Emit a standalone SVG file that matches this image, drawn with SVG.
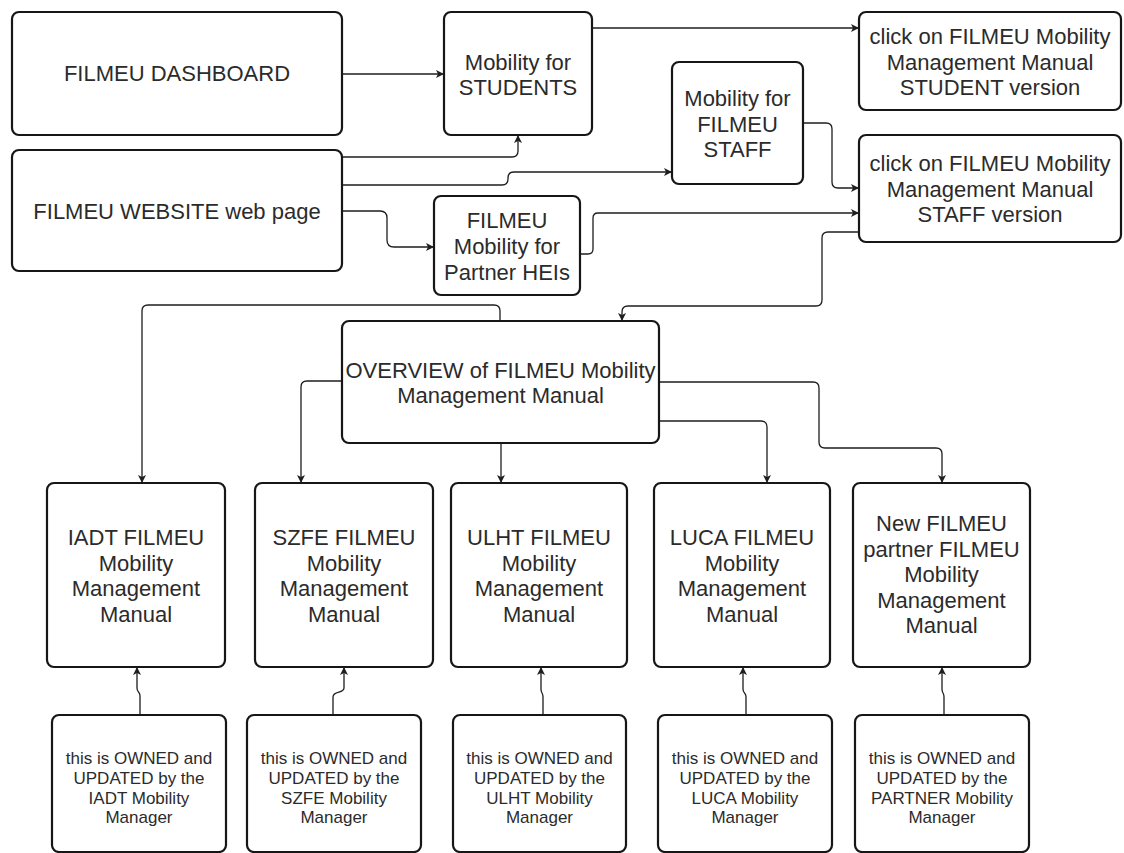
<svg xmlns="http://www.w3.org/2000/svg" width="1124" height="853" viewBox="0 0 1124 853">
<style>
.box{fill:#fff;stroke:#161616;stroke-width:2.2}
.t{font-family:"Liberation Sans",Arial,sans-serif;font-size:22px;fill:#2b2b2b;text-anchor:middle}
.s{font-family:"Liberation Sans",Arial,sans-serif;font-size:17px;fill:#2b2b2b;text-anchor:middle}
.c{fill:none;stroke:#1e1e1e;stroke-width:1.3;marker-end:url(#arr)}
</style>
<defs>
<marker id="arr" markerUnits="userSpaceOnUse" markerWidth="10" markerHeight="10" refX="9" refY="5" orient="auto">
<path d="M1,1 L9,5 L1,9 L3,5 Z" fill="#1e1e1e"/>
</marker>
</defs>
<rect width="1124" height="853" fill="#fff"/>
<g id="connectors">
<path class="c" d="M342,74 H444"/>
<path class="c" d="M342,157 H512 Q518,157 518,151 V135"/>
<path class="c" d="M342,185 H502 Q508,185 508,179 V178 Q508,172 514,172 H672"/>
<path class="c" d="M342,211 H380 Q387,211 387,218 V240 Q387,247 394,247 H434"/>
<path class="c" d="M592,28 H859"/>
<path class="c" d="M803,123 H826 Q832,123 832,129 V182 Q832,188 838,188 H859"/>
<path class="c" d="M580,254 H588 Q593,254 593,249 V218 Q593,213 598,213 H859"/>
<path class="c" d="M859,232 H828 Q822,232 822,238 V300 Q822,306 816,306 H628 Q622,306 622,312 V321"/>
<path class="c" d="M500,321 V311 Q500,305 494,305 H148 Q142,305 142,311 V483"/>
<path class="c" d="M342,381 H307 Q301,381 301,387 V483"/>
<path class="c" d="M501,443 V483"/>
<path class="c" d="M659,421 H761 Q767,421 767,427 V483"/>
<path class="c" d="M659,382 H813 Q819,382 819,388 V442 Q819,448 825,448 H936 Q942,448 942,454 V483"/>
<path class="c" d="M140,715 V696 C140,691 137,693 137,688 V667"/>
<path class="c" d="M333,715 V697 C333,690 344,694 344,688 V667"/>
<path class="c" d="M543,715 V697 C543,692 541,694 541,689 V667"/>
<path class="c" d="M746,715 V697 C746,692 743,694 743,689 V667"/>
<path class="c" d="M944,715 V697 C944,692 942,694 942,689 V667"/>
</g>
<g id="dashboard">
<rect class="box" x="12" y="12" width="330" height="123" rx="7"/>
<text class="t" x="177" y="81">FILMEU DASHBOARD</text>
</g>
<g id="website">
<rect class="box" x="12" y="150" width="330" height="121" rx="7"/>
<text class="t" x="177" y="218.5">FILMEU WEBSITE web page</text>
</g>
<g id="students">
<rect class="box" x="444" y="12" width="148" height="123" rx="7"/>
<text class="t" x="518" y="69.5">Mobility for</text>
<text class="t" x="518" y="95">STUDENTS</text>
</g>
<g id="staff">
<rect class="box" x="672" y="62" width="131" height="122" rx="7"/>
<text class="t" x="737.5" y="106">Mobility for</text>
<text class="t" x="737.5" y="131.5">FILMEU</text>
<text class="t" x="737.5" y="157">STAFF</text>
</g>
<g id="partner-heis">
<rect class="box" x="434" y="196" width="146" height="99" rx="7"/>
<text class="t" x="507" y="228">FILMEU</text>
<text class="t" x="507" y="254">Mobility for</text>
<text class="t" x="507" y="279.5">Partner HEIs</text>
</g>
<g id="student-version">
<rect class="box" x="859" y="12" width="262" height="98" rx="7"/>
<text class="t" x="990" y="44">click on FILMEU Mobility</text>
<text class="t" x="990" y="69.5">Management Manual</text>
<text class="t" x="990" y="95">STUDENT version</text>
</g>
<g id="staff-version">
<rect class="box" x="859" y="135" width="262" height="107" rx="7"/>
<text class="t" x="990" y="171">click on FILMEU Mobility</text>
<text class="t" x="990" y="196.5">Management Manual</text>
<text class="t" x="990" y="222">STAFF version</text>
</g>
<g id="overview">
<rect class="box" x="342" y="321" width="317" height="122" rx="7"/>
<text class="t" x="500.5" y="378">OVERVIEW of FILMEU Mobility</text>
<text class="t" x="500.5" y="403">Management Manual</text>
</g>
<g id="iadt">
<rect class="box" x="47" y="483" width="178" height="184" rx="7"/>
<text class="t" x="136" y="545">IADT FILMEU</text>
<text class="t" x="136" y="570.5">Mobility</text>
<text class="t" x="136" y="596">Management</text>
<text class="t" x="136" y="621.5">Manual</text>
</g>
<g id="szfe">
<rect class="box" x="255" y="483" width="178" height="184" rx="7"/>
<text class="t" x="344" y="545">SZFE FILMEU</text>
<text class="t" x="344" y="570.5">Mobility</text>
<text class="t" x="344" y="596">Management</text>
<text class="t" x="344" y="621.5">Manual</text>
</g>
<g id="ulht">
<rect class="box" x="451" y="483" width="176" height="184" rx="7"/>
<text class="t" x="539" y="545">ULHT FILMEU</text>
<text class="t" x="539" y="570.5">Mobility</text>
<text class="t" x="539" y="596">Management</text>
<text class="t" x="539" y="621.5">Manual</text>
</g>
<g id="luca">
<rect class="box" x="654" y="483" width="176" height="184" rx="7"/>
<text class="t" x="742" y="545">LUCA FILMEU</text>
<text class="t" x="742" y="570.5">Mobility</text>
<text class="t" x="742" y="596">Management</text>
<text class="t" x="742" y="621.5">Manual</text>
</g>
<g id="new-partner">
<rect class="box" x="853" y="483" width="177" height="184" rx="7"/>
<text class="t" x="941.5" y="531">New FILMEU</text>
<text class="t" x="941.5" y="556.5">partner FILMEU</text>
<text class="t" x="941.5" y="582">Mobility</text>
<text class="t" x="941.5" y="607.5">Management</text>
<text class="t" x="941.5" y="633">Manual</text>
</g>
<g id="owner-iadt">
<rect class="box" x="52" y="715" width="174" height="137" rx="7"/>
<text class="s" x="139" y="764">this is OWNED and</text>
<text class="s" x="139" y="784">UPDATED by the</text>
<text class="s" x="139" y="804">IADT Mobility</text>
<text class="s" x="139" y="823">Manager</text>
</g>
<g id="owner-szfe">
<rect class="box" x="247" y="715" width="174" height="137" rx="7"/>
<text class="s" x="334" y="764">this is OWNED and</text>
<text class="s" x="334" y="784">UPDATED by the</text>
<text class="s" x="334" y="804">SZFE Mobility</text>
<text class="s" x="334" y="823">Manager</text>
</g>
<g id="owner-ulht">
<rect class="box" x="453" y="715" width="173" height="137" rx="7"/>
<text class="s" x="539.5" y="764">this is OWNED and</text>
<text class="s" x="539.5" y="784">UPDATED by the</text>
<text class="s" x="539.5" y="804">ULHT Mobility</text>
<text class="s" x="539.5" y="823">Manager</text>
</g>
<g id="owner-luca">
<rect class="box" x="658" y="715" width="174" height="137" rx="7"/>
<text class="s" x="745" y="764">this is OWNED and</text>
<text class="s" x="745" y="784">UPDATED by the</text>
<text class="s" x="745" y="804">LUCA Mobility</text>
<text class="s" x="745" y="823">Manager</text>
</g>
<g id="owner-partner">
<rect class="box" x="855" y="715" width="174" height="137" rx="7"/>
<text class="s" x="942" y="764">this is OWNED and</text>
<text class="s" x="942" y="784">UPDATED by the</text>
<text class="s" x="942" y="804">PARTNER Mobility</text>
<text class="s" x="942" y="823">Manager</text>
</g>
</svg>
